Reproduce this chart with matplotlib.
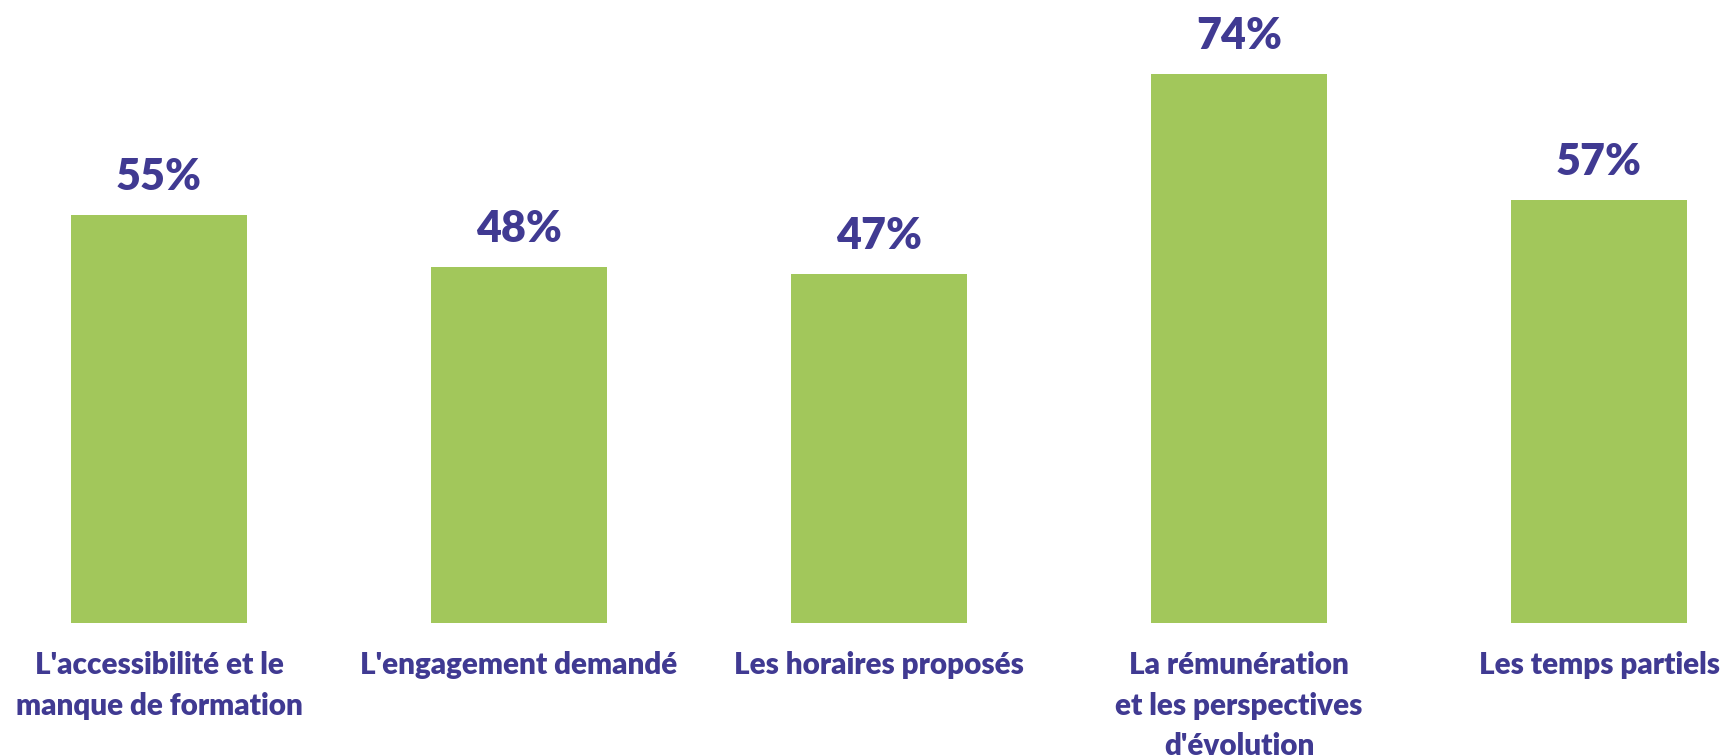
import matplotlib
matplotlib.use("Agg")
import matplotlib.pyplot as plt

categories = ["L'accessibilité et le\nmanque de formation",
              "L'engagement demandé",
              "Les horaires proposés",
              "La rémunération\net les perspectives\nd'évolution",
              "Les temps partiels"]
values = [55, 48, 47, 74, 57]

green = "#A2C75B"
purple = "#403A92"
font = "Lato"

W, H, DPI = 1723, 756, 100
fig = plt.figure(figsize=(W / DPI, H / DPI), dpi=DPI)
bottom_px = 623
ax = fig.add_axes([0, (H - bottom_px) / H, 1, bottom_px / H])
ax.set_xlim(-159 / 360, (W - 159) / 360)
ax.set_ylim(0, bottom_px / 7.42)

x = list(range(len(values)))
bars = ax.bar(x, values, width=176 / 360, color=green)
for xi, v in zip(x, values):
    ax.annotate(f"{v}%", (xi, v), xytext=(0, 13), textcoords="offset points",
                ha="center", va="bottom", fontsize=31, fontweight="heavy",
                color=purple, family=font)

ax.set_xticks(x)
ax.set_xticklabels(categories, fontsize=21.3, fontweight="heavy", color=purple,
                   family=font, linespacing=1.54, va="top")
ax.tick_params(axis="x", length=0, pad=20.5)
ax.set_yticks([])
for s in ax.spines.values():
    s.set_visible(False)

fig.savefig("out.png", dpi=DPI)
